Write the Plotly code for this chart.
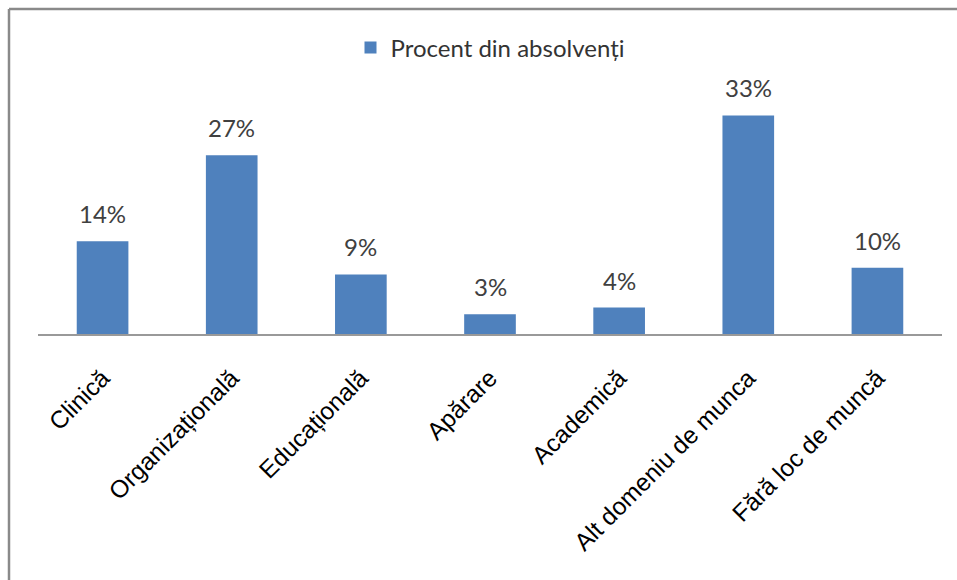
import plotly.graph_objects as go

categories = ["Clinică", "Organizațională", "Educațională", "Apărare", "Academică",
              "Alt domeniu de munca", "Fără loc de muncă"]
values = [14, 27, 9, 3, 4, 33, 10]
value_labels = ["14%", "27%", "9%", "3%", "4%", "33%", "10%"]
series_name = "Procent din absolvenți"

W, H = 957, 580
L, T = 38, 69
pw, ph = 904, 265
R, B = W - L - pw, H - T - ph
base = T + ph  # baseline y in figure px

fig = go.Figure()
fig.add_trace(go.Bar(
    x=categories, y=values, name=series_name,
    marker=dict(color="#4F81BD", line=dict(width=0)),
    showlegend=True,
))

for c, v, lab in zip(categories, values, value_labels):
    fig.add_annotation(x=c, y=v, text=lab, showarrow=False, yanchor="bottom",
                       yshift=11, font=dict(family="Lato, Carlito, sans-serif", size=24, color="#404040"))

# outer frame: top and left edges (x=9, y=9)
fx, fy = 9, 9
px0 = (fx - L) / pw
py1 = (base - fy) / ph
frame = dict(color="#8a8a8a", width=2.5)
fig.add_shape(type="line", xref="paper", yref="paper",
              x0=px0, x1=(W + 40 - L) / pw, y0=py1, y1=py1, line=frame, layer="below")
fig.add_shape(type="line", xref="paper", yref="paper",
              x0=px0, x1=px0, y0=py1, y1=(base - H - 40) / ph, line=frame, layer="below")

fig.update_layout(
    width=W, height=H,
    margin=dict(l=L, r=R, t=T, b=B, autoexpand=False),
    paper_bgcolor="white", plot_bgcolor="white",
    bargap=0.6,
    legend=dict(orientation="h", x=(490 - L) / pw, xanchor="center",
                y=(base - 48) / ph, yanchor="middle",
                font=dict(family="Lato, Carlito, sans-serif", size=24, color="#333333"),
                itemwidth=30),
    xaxis=dict(showline=True, linecolor="#999999", linewidth=2, ticks="",
               tickangle=-45, ticklabelstandoff=18,
               tickfont=dict(family="Liberation Sans, Arial", size=24.5, color="#000000"),
               showgrid=False),
    yaxis=dict(range=[0, 40], visible=False, showgrid=False),
)

fig.write_html("out.html", config={"displayModeBar": False},
               post_script="document.body.style.margin='0';document.body.style.overflow='hidden';")
